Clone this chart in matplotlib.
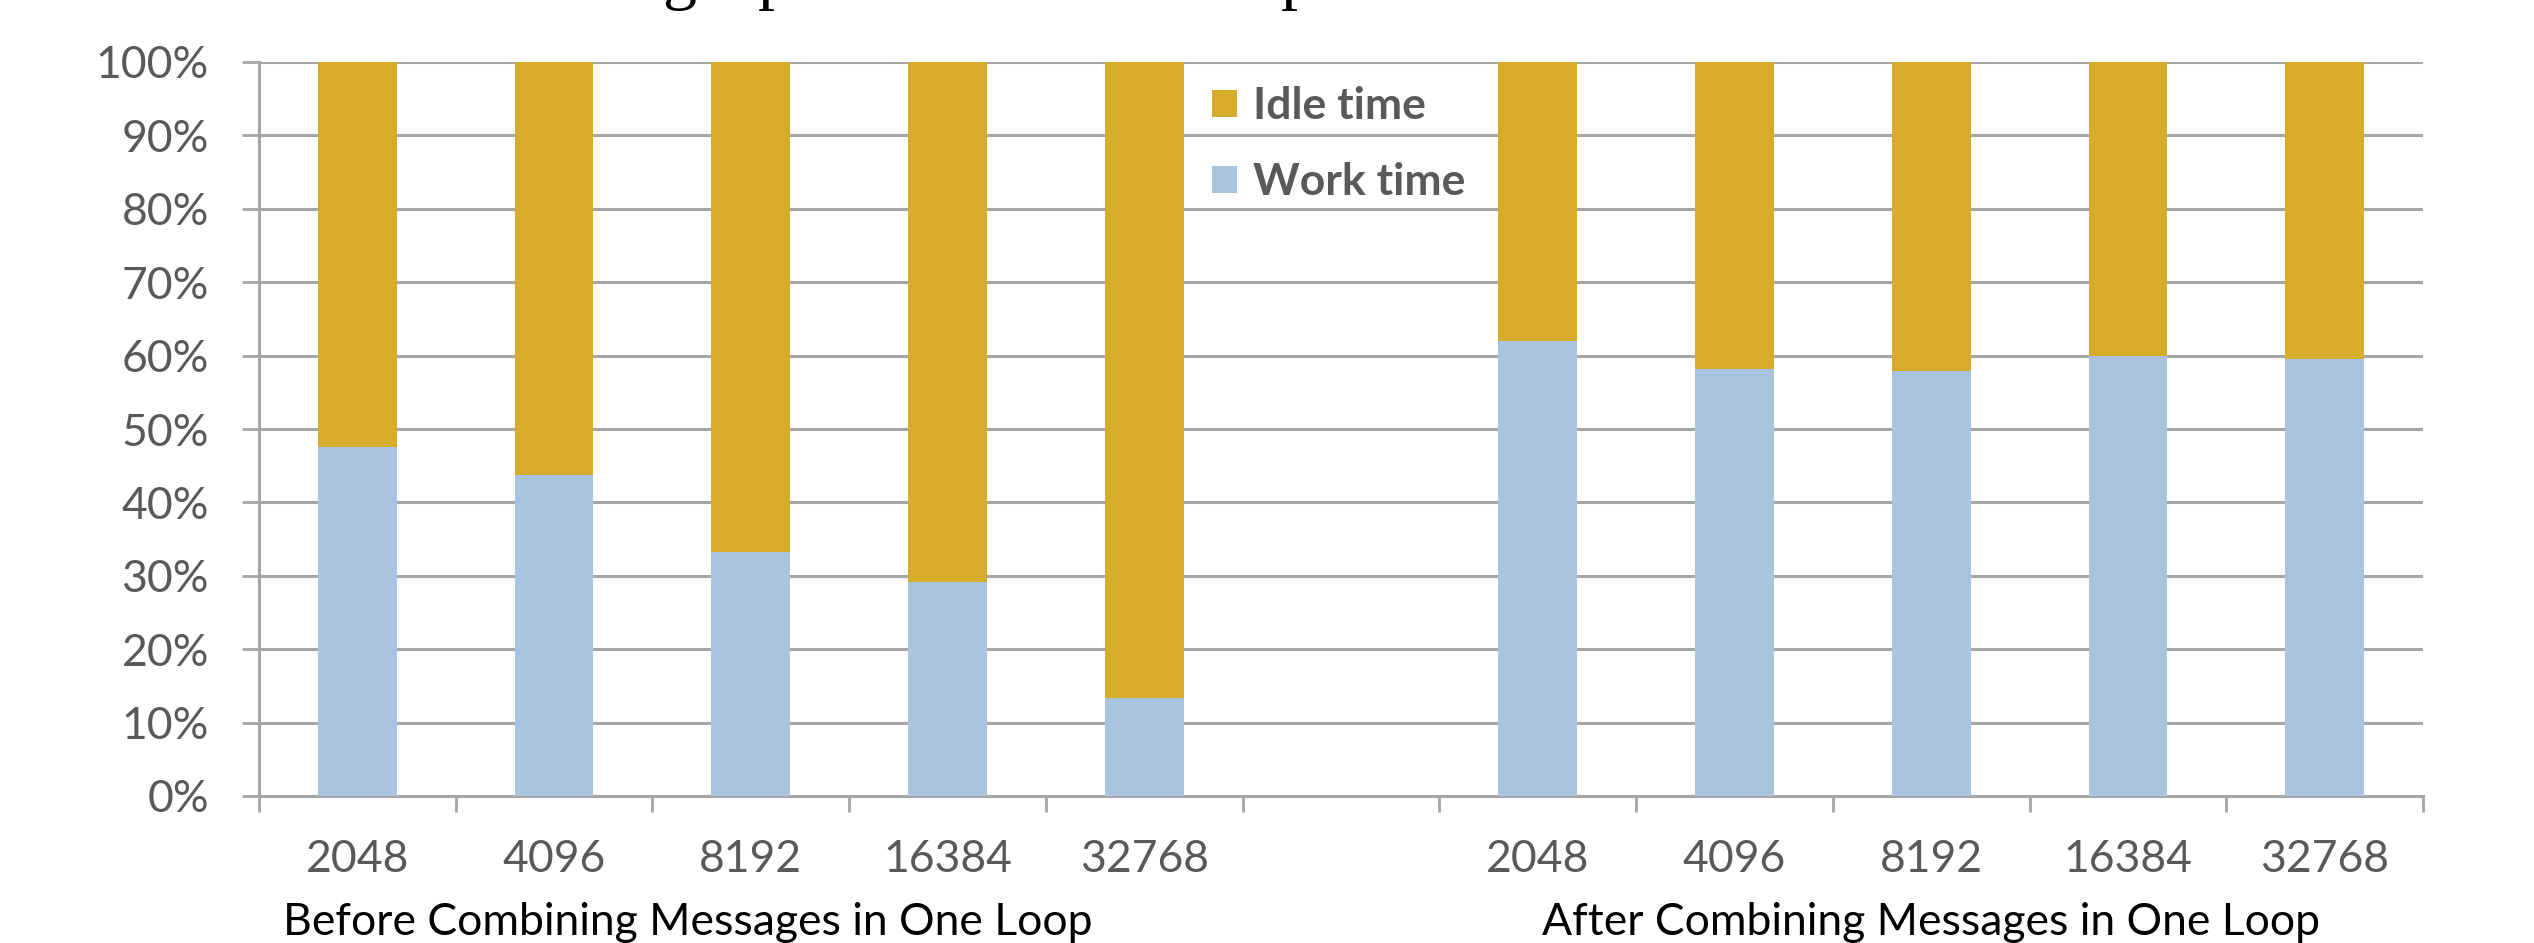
import matplotlib
matplotlib.use('Agg')
import matplotlib.pyplot as plt
from matplotlib.transforms import blended_transform_factory

# Data (percent of total time)
sizes = ['2048', '4096', '8192', '16384', '32768']
work_before = [47.5, 43.7, 33.3, 29.2, 13.3]
work_after = [62.0, 58.2, 57.9, 60.0, 59.6]
idle_before = [100 - v for v in work_before]
idle_after = [100 - v for v in work_after]
group_labels = ['Before Combining Messages in One Loop', 'After Combining Messages in One Loop']

gold = '#D7AC2A'
blue = '#A8C4DE'
grid_gray = '#A6A6A6'
text_gray = '#595959'

plt.rcParams['font.family'] = ['Lato', 'DejaVu Sans']

W, H = 2534, 943
fig = plt.figure(figsize=(W / 100, H / 100), dpi=100)
ax = fig.add_axes([259 / W, 1 - 796 / H, (2423 - 259) / W, (796 - 62) / H])

# bar positions: 5 bars, one empty slot, 5 bars
pos_before = list(range(5))
pos_after = [p + 6 for p in range(5)]
positions = pos_before + pos_after
work = work_before + work_after
idle = idle_before + idle_after

ax.bar(positions, work, width=0.4, color=blue, zorder=3, label='Work time')
ax.bar(positions, idle, width=0.4, bottom=work, color=gold, zorder=3, label='Idle time')

ax.set_xlim(-0.5, 10.5)
ax.set_ylim(0, 100)

# y axis
ax.set_yticks(range(0, 101, 10))
ax.set_yticklabels([f'{v}%' for v in range(0, 101, 10)])
ax.yaxis.grid(True, color=grid_gray, linewidth=2.2, zorder=0)
ax.tick_params(axis='y', length=12, width=2, color=grid_gray, pad=24,
               labelsize=32, labelcolor=text_gray)

# x axis: ticks at slot boundaries, labels at bar centres
ax.set_xticks([i - 0.5 for i in range(12)])
ax.set_xticklabels([])
ax.set_xticks(positions, minor=True)
ax.set_xticklabels(sizes + sizes, minor=True)
ax.tick_params(axis='x', which='major', length=11.5, width=2, color=grid_gray)
ax.tick_params(axis='x', which='minor', length=0, pad=31, labelsize=32, labelcolor=text_gray)

for side in ['top', 'right']:
    ax.spines[side].set_visible(False)
for side in ['left', 'bottom']:
    ax.spines[side].set_color(grid_gray)
    ax.spines[side].set_linewidth(2.2)
ax.set_axisbelow(True)

# group captions under the categories
trans = blended_transform_factory(ax.transData, ax.transAxes)
ax.text(1.68, -0.172, group_labels[0], transform=trans, ha='center', va='center',
        fontsize=32, color='black')
ax.text(8.0, -0.172, group_labels[1], transform=trans, ha='center', va='center',
        fontsize=32, color='black')

# legend, idle first
handles, labels = ax.get_legend_handles_labels()
leg = ax.legend(handles[::-1], labels[::-1], loc='upper left',
                bbox_to_anchor=(1212 / W, 1 - 86 / H), bbox_transform=fig.transFigure,
                frameon=False, borderpad=0, borderaxespad=0,
                handlelength=0.56, handleheight=0.56, handletextpad=0.36,
                labelspacing=0.82, prop={'family': 'Lato', 'weight': 'bold', 'size': 32})
for t in leg.get_texts():
    t.set_color(text_gray)

# bottom of a clipped caption line above the chart
for ch, x in [('g', 679), ('p', 775), ('p', 1298)]:
    fig.text(x / W, 1 + 3 / H, ch, ha='center', va='baseline',
             family='Liberation Serif', fontsize=49, color='black')

fig.savefig('out.png', dpi=100)
